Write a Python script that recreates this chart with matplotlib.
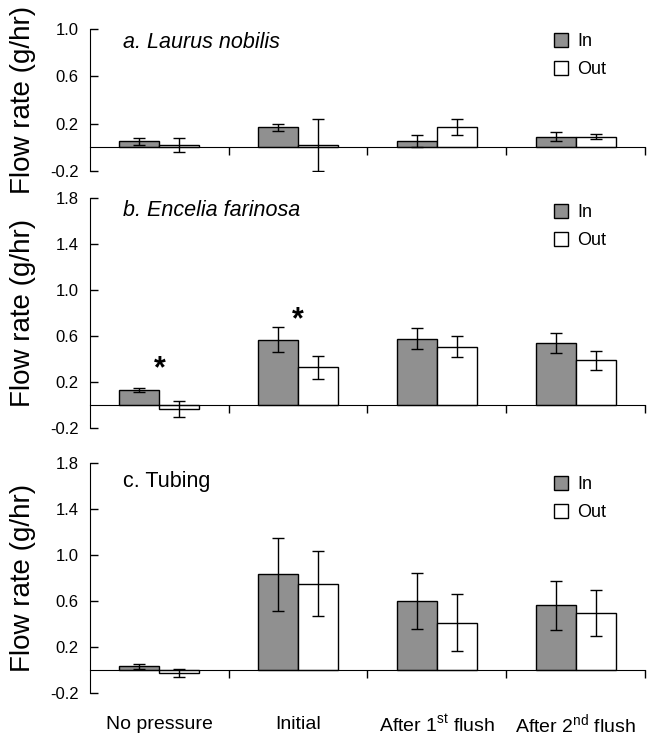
import numpy as np
import matplotlib
matplotlib.use('Agg')
import matplotlib.pyplot as plt
from matplotlib.patches import Patch

plt.rcParams['font.family'] = ['Liberation Sans', 'DejaVu Sans']
plt.rcParams['mathtext.fontset'] = 'custom'
plt.rcParams['mathtext.rm'] = 'Liberation Sans'

categories = ['No pressure', 'Initial', 'After 1$^{\\rm st}$ flush', 'After 2$^{\\rm nd}$ flush']

# a. Laurus nobilis
laurus_in = [0.05, 0.17, 0.05, 0.09]
laurus_in_err = [0.03, 0.03, 0.05, 0.035]
laurus_out = [0.02, 0.02, 0.17, 0.09]
laurus_out_err = [0.06, 0.22, 0.065, 0.02]

# b. Encelia farinosa
encelia_in = [0.13, 0.57, 0.58, 0.54]
encelia_in_err = [0.016, 0.11, 0.09, 0.09]
encelia_out = [-0.03, 0.33, 0.51, 0.39]
encelia_out_err = [0.07, 0.10, 0.09, 0.085]
encelia_stars = [0.31, 0.74, None, None]

# c. Tubing
tubing_in = [0.03, 0.83, 0.60, 0.56]
tubing_in_err = [0.02, 0.315, 0.245, 0.21]
tubing_out = [-0.025, 0.75, 0.41, 0.49]
tubing_out_err = [0.035, 0.28, 0.245, 0.20]

panels = [
    ('a. Laurus nobilis', 'italic', laurus_in, laurus_in_err, laurus_out, laurus_out_err,
     [None] * 4, (-0.2, 1.0), [-0.2, 0.2, 0.6, 1.0]),
    ('b. Encelia farinosa', 'italic', encelia_in, encelia_in_err, encelia_out, encelia_out_err,
     encelia_stars, (-0.2, 1.8), [-0.2, 0.2, 0.6, 1.0, 1.4, 1.8]),
    ('c. Tubing', 'normal', tubing_in, tubing_in_err, tubing_out, tubing_out_err,
     [None] * 4, (-0.2, 1.8), [-0.2, 0.2, 0.6, 1.0, 1.4, 1.8]),
]

# axes boxes in figure fraction (left, bottom, width, height)
boxes = [(0.139, 0.768, 0.858, 0.193),
         (0.139, 0.419, 0.858, 0.312),
         (0.139, 0.060, 0.858, 0.312)]
title_off = [14, 12, 19]    # px below axes top
legend_off = [13, 15, 22]   # px below axes top (centre of "In" row)

fig = plt.figure(figsize=(6.47, 7.37), dpi=100)
x = np.arange(len(categories))
w = 0.288
gray = '#909090'

for i, (title, style, v_in, e_in, v_out, e_out, stars, ylim, yt) in enumerate(panels):
    ax = fig.add_axes(boxes[i])
    h_px = boxes[i][3] * 737
    ax.bar(x - w / 2, v_in, w, color=gray, edgecolor='black', linewidth=1, zorder=2)
    ax.bar(x + w / 2, v_out, w, color='white', edgecolor='black', linewidth=1, zorder=2)
    ax.errorbar(x - w / 2, v_in, yerr=e_in, fmt='none', ecolor='black', elinewidth=1,
                capsize=4, capthick=1, zorder=3)
    ax.errorbar(x + w / 2, v_out, yerr=e_out, fmt='none', ecolor='black', elinewidth=1,
                capsize=4, capthick=1, zorder=3)
    for xi, s in zip(x, stars):
        if s is not None:
            ax.text(xi, s, '*', ha='center', va='center', fontsize=22, fontweight='bold')

    ax.set_xlim(-0.5, 3.5)
    ax.set_ylim(*ylim)
    ax.set_yticks(yt)
    ax.set_yticklabels([f'{t:.1f}' for t in yt])
    ax.spines['top'].set_visible(False)
    ax.spines['right'].set_visible(False)
    ax.spines['bottom'].set_position(('data', 0))
    ax.set_xticks([0.5, 1.5, 2.5, 3.5])
    ax.set_xticklabels([])
    ax.tick_params(axis='x', direction='out', length=6, width=1)
    ax.tick_params(axis='y', direction='in', length=6, width=1, labelsize=12, pad=8)
    ax.set_ylabel('Flow rate (g/hr)', fontsize=20, va='center')
    ax.yaxis.set_label_coords(-0.121, 0.5)

    ax.text(0.059, 1 - title_off[i] / h_px, title, transform=ax.transAxes,
            fontsize=15.5, fontstyle=style, ha='left', va='center')

    handles = [Patch(facecolor=gray, edgecolor='black', linewidth=1, label='In'),
               Patch(facecolor='white', edgecolor='black', linewidth=1, label='Out')]
    ax.legend(handles=handles, loc='upper left',
              bbox_to_anchor=(0.836, 1 - (legend_off[i] - 9) / h_px),
              frameon=False, fontsize=13, borderpad=0, borderaxespad=0,
              handlelength=0.8, handleheight=0.8, handletextpad=0.5, labelspacing=0.6)

    if i == 2:
        for xi, lab in zip(x, categories):
            ax.text(xi, -32 / h_px, lab, transform=ax.get_xaxis_transform(),
                    ha='center', va='center', fontsize=14)

fig.savefig('out.png', dpi=100)
